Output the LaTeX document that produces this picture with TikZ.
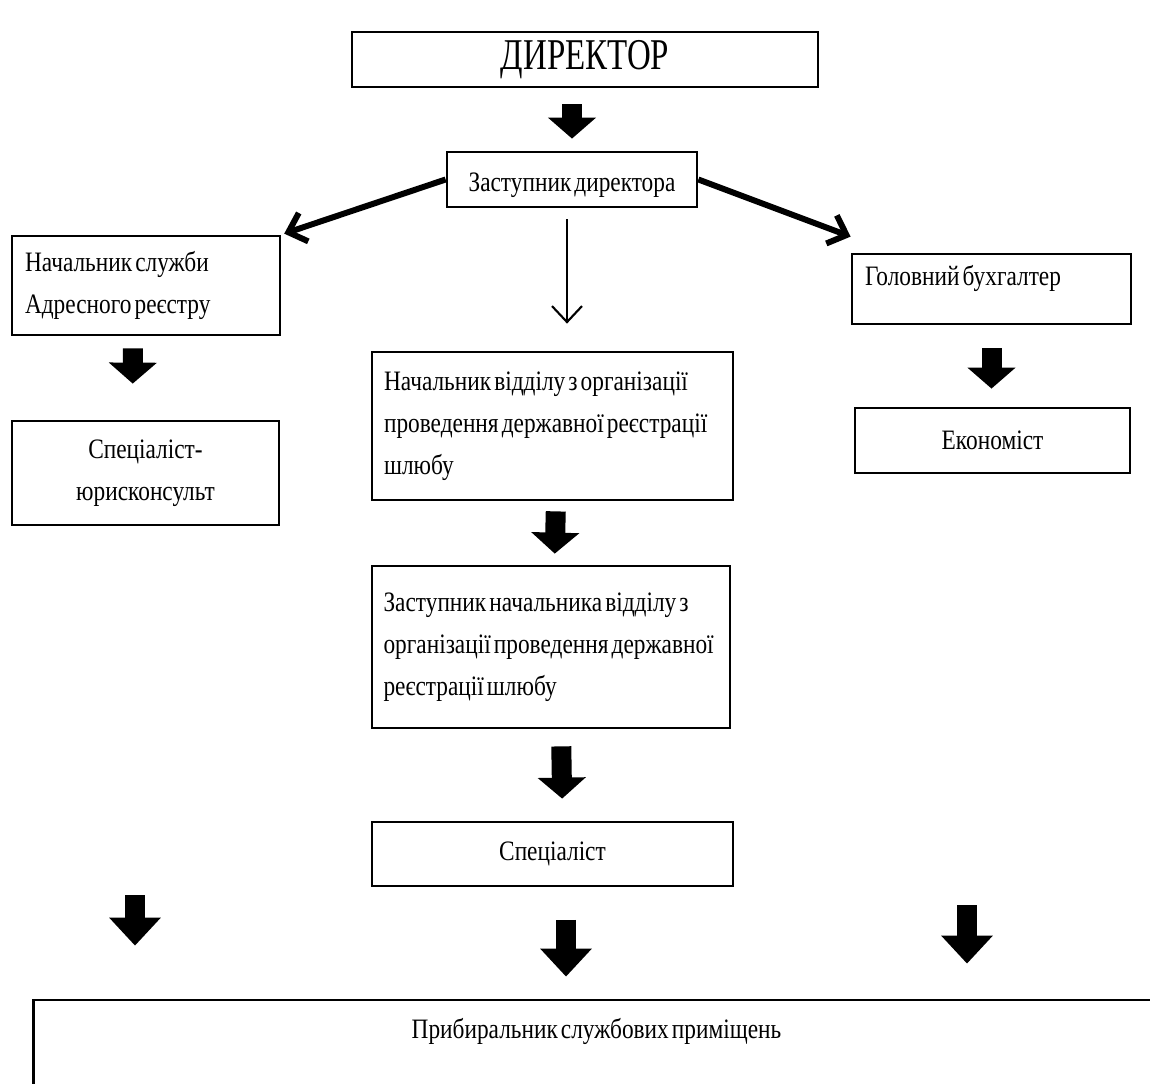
\documentclass[tikz,border=0pt]{standalone}
\usepackage{fontspec}
\setmainfont[FakeStretch=0.83,WordSpace=0.45]{Liberation Serif}
\newfontfamily\bigfont[FakeStretch=0.75]{Liberation Serif}
\usetikzlibrary{arrows.meta}

\begin{document}
\begin{tikzpicture}[x=0.02cm,y=-0.02cm]
            \useasboundingbox (0,0) rectangle (1150,1084);
            \begin{scope}[every node/.style={draw,line width=1.6pt,inner sep=0pt,font=\fontsize{16}{24}\selectfont,
                                             execute at begin node={\spaceskip=0.11em plus 0.05em\relax}}]
                \node[minimum width=9.32cm,minimum height=1.1cm,font=\bigfont\fontsize{25}{25}\selectfont] (dir) at (585,59.5) {ДИРЕКТОР};
                \node[minimum width=5cm,minimum height=1.1cm,text height=17pt] (dep) at (572,179.5) {Заступник директора};
                \node[minimum width=5.36cm,minimum height=1.98cm,text width=4.84cm,align=left] (head) at (146,285.5) {Начальник служби\\Адресного реєстру};
                \node[minimum width=5.58cm,minimum height=1.4cm,text width=5.06cm,align=left,text depth=15pt] (buh) at (991.5,289) {Головний бухгалтер};
                \node[minimum width=5.34cm,minimum height=2.08cm,text width=4.8cm,align=center] (jur) at (145.5,473) {Спеціаліст-\\юрисконсульт};
                \node[minimum width=5.5cm,minimum height=1.3cm] (econ) at (992.5,440.5) {Економіст};
                \node[minimum width=7.22cm,minimum height=2.96cm,text width=6.74cm,align=left] (nach) at (552.5,426) {Начальник відділу з організації\\проведення державної реєстрації\\шлюбу};
                \node[minimum width=7.16cm,minimum height=3.24cm,text width=6.7cm,align=left] (zast) at (551,647) {Заступник начальника відділу з\\організації проведення державної\\реєстрації шлюбу};
                \node[minimum width=7.22cm,minimum height=1.28cm] (spec) at (552.5,854) {Спеціаліст};
                \node[minimum width=22.54cm,minimum height=2cm,text depth=24pt] (prib) at (596.5,1050) {Прибиральник службових приміщень};
            \end{scope}
            \coordinate (l) at (135,895);
            \coordinate (m) at (566,886);
            \coordinate (r) at (967,905);
            \begin{scope}[fat/.style={line width=0.4cm,-{Triangle[width=0.94cm,length=0.42cm]}},
                          bigfat/.style={line width=0.4cm,-{Triangle[width=1cm,length=0.56cm]}}]
                \path
                    (dep.north |- dir.south) edge [fat,shorten <=0.32cm,shorten >=0.24cm] (dep.north)
                    ([xshift=-0.26cm]head.south) edge [fat,shorten <=0.24cm,shorten >=0.72cm] ([xshift=-0.26cm]jur.north)
                    (buh.south) edge [fat,shorten <=0.46cm,shorten >=0.36cm] (buh.south |- econ.north)
                    ([xshift=0.07cm]nach.south) edge [fat,shorten <=0.2cm,shorten >=0.22cm] ([xshift=0.07cm]zast.north)
                    ([xshift=0.2cm]zast.south) edge [fat,shorten <=0.34cm,shorten >=0.44cm] ([xshift=0.2cm]spec.north)
                    (l) edge [bigfat,shorten >=1.06cm] (prib.north -| l)
                    (m) edge [bigfat,shorten <=0.68cm,shorten >=0.44cm] (prib.north -| m)
                    (r) edge [bigfat,shorten >=0.7cm] (prib.north -| r);
            \end{scope}
            \begin{scope}[every edge/.style={draw,-{Straight Barb[length=0.32cm,width=0.6cm]}}]
                \path
                    (dep.west) edge [line width=3.4pt,shorten >=0.06cm] (head.north east)
                    (dep.east) edge [line width=3.4pt] ([yshift=0.32cm]buh.north west)
                    ([xshift=-0.1cm]dep.south) edge [line width=1.2pt,shorten <=0.22cm,shorten >=0.54cm] ([xshift=-0.1cm]dep.south |- nach.north);
            \end{scope}
        \end{tikzpicture}
\end{document}
